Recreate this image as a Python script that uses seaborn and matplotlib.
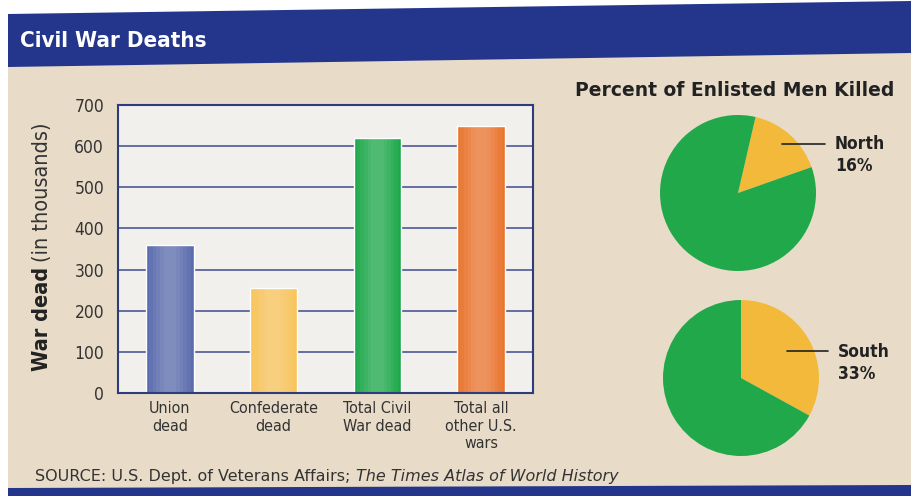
import numpy as np
import pandas as pd
import seaborn as sns
import matplotlib.pyplot as plt
from matplotlib.patches import Polygon

# datos
categorias = ['Union\ndead', 'Confederate\ndead', 'Total Civil\nWar dead', 'Total all\nother U.S.\nwars']
muertos = [360, 255, 620, 650]
colores_barras = ['#5b6cae', '#f8c45c', '#1ea84b', '#e9752f']

regiones = ['North', 'South']
pct_muertos = [16, 33]
inicio_pie = [77, 90]

ticks_y = [0, 100, 200, 300, 400, 500, 600, 700]

sns.set_theme(style='white')
plt.rcParams['font.family'] = ['DejaVu Sans']
plt.rcParams['font.stretch'] = 'condensed'

fondo = '#e8dcc9'
azul = '#24368b'
verde = '#21a84a'
amarillo = '#f3b93a'

fig = plt.figure(figsize=(9.11, 4.96), dpi=100)
fig.patch.set_facecolor('white')

# fondo beige y bandas azules
W, H = 911, 496
def px(x, y):
    return (x / W, 1 - y / H)

fig.patches.append(Polygon([px(8, 62), px(911, 50), px(911, 488), px(8, 490)],
                           closed=True, transform=fig.transFigure, facecolor=fondo, edgecolor='none', zorder=-5))
fig.patches.append(Polygon([px(8, 14), px(911, 1), px(911, 53), px(8, 67)],
                           closed=True, transform=fig.transFigure, facecolor=azul, edgecolor='none', zorder=-4))
fig.patches.append(Polygon([px(8, 488), px(911, 485), px(911, 496), px(8, 496)],
                           closed=True, transform=fig.transFigure, facecolor=azul, edgecolor='none', zorder=-4))

fig.text(20 / W, 1 - 41 / H, 'Civil War Deaths', color='white', fontsize=16, fontweight='bold',
         va='center', ha='left')

# grafico de barras
ax = fig.add_axes([118 / W, 1 - 393 / H, 415 / W, 288 / H])
df = pd.DataFrame({'cat': categorias, 'val': muertos})
sns.barplot(data=df, x='cat', y='val', hue='cat', palette=colores_barras, width=0.46,
            legend=False, ax=ax, saturation=1)
# brillo suave en el centro de cada barra
for w in [0.40, 0.33, 0.26, 0.19, 0.12]:
    sns.barplot(data=df, x='cat', y='val', color='white', width=w, alpha=0.05,
                legend=False, ax=ax, linewidth=0)
ax.set_facecolor('#f1f0ec')
ax.set_ylim(0, 700)
ax.set_yticks(ticks_y)
ax.yaxis.grid(True, color='#3d4c8c', linewidth=1.1)
ax.set_axisbelow(True)
for s in ax.spines.values():
    s.set_color('#2e3b7e')
    s.set_linewidth(1.5)
ax.tick_params(axis='y', length=0, pad=10, labelsize=12.5, labelcolor='#333333')
ax.tick_params(axis='x', length=0, pad=6, labelsize=11.5, labelcolor='#333333')
ax.set_xlabel('')
ax.set_ylabel('')

# etiqueta eje y: parte en negrita, parte normal
fig.canvas.draw()
r = fig.canvas.get_renderer()
t1 = fig.text(42 / W, 1 - 371 / H, 'War dead', rotation=90, fontsize=15.5, fontweight='bold',
              color='#222222', ha='center', va='bottom')
bb = t1.get_window_extent(r)
fig.text(42 / W, (bb.y1 + 5) / H, '(in thousands)', rotation=90, fontsize=15.5,
         color='#333333', ha='center', va='bottom')

# graficos de torta
fig.text(735 / W, 1 - 91 / H, 'Percent of Enlisted Men Killed', fontsize=13.5, fontweight='bold',
         color='#222222', ha='center', va='center', fontstretch='normal')

centros = [(738, 193), (741, 378)]
radio = 78
for (cx, cy), reg, p, ini in zip(centros, regiones, pct_muertos, inicio_pie):
    axp = fig.add_axes([(cx - radio) / W, 1 - (cy + radio) / H, 2 * radio / W, 2 * radio / H])
    axp.pie([p, 100 - p], colors=[amarillo, verde], startangle=ini, counterclock=False,
            radius=1, wedgeprops=dict(linewidth=0))
    axp.set_xlim(-1, 1)
    axp.set_ylim(-1, 1)
    axp.set_aspect('equal')
    axp.axis('off')
    # linea guia hacia la etiqueta
    ang = np.deg2rad(ini - 360 * p / 200)
    rr = 0.85 if p < 20 else 0.68
    x0, y0 = rr * np.cos(ang), rr * np.sin(ang)
    axp.plot([x0, 1.12], [y0, y0], color='#222222', linewidth=1.2, clip_on=False)
    axp.text(1.24, y0 - 0.15, f'{reg}\n{p}%', fontsize=12.5, fontweight='bold', color='#222222',
             ha='left', va='center', linespacing=1.3, clip_on=False)

# fuente
t2 = fig.text(35 / W, 1 - 477 / H, 'SOURCE: U.S. Dept. of Veterans Affairs; ', fontsize=11.5,
              color='#333333', ha='left', va='center', fontstretch='normal')
bb2 = t2.get_window_extent(r)
fig.text(bb2.x1 / W, 1 - 477 / H, 'The Times Atlas of World History', fontsize=11.5,
         style='italic', color='#333333', ha='left', va='center', fontstretch='normal')

plt.savefig('out.png', dpi=100, facecolor=fig.get_facecolor())
